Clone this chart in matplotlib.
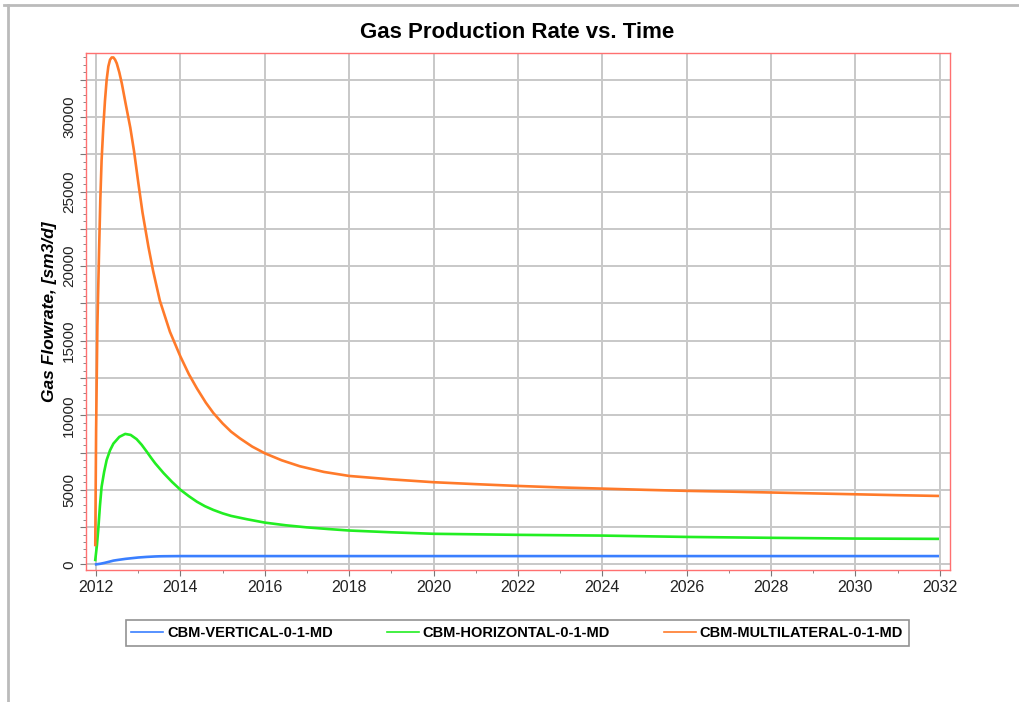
import matplotlib
matplotlib.use("Agg")
import matplotlib.pyplot as plt
from matplotlib.ticker import MultipleLocator, FuncFormatter
from matplotlib.lines import Line2D

plt.rcParams["font.family"] = ["Liberation Sans", "DejaVu Sans"]

title = "Gas Production Rate vs. Time"
ylabel = "Gas Flowrate, [sm3/d]"
series_names = ["CBM-VERTICAL-0-1-MD", "CBM-HORIZONTAL-0-1-MD", "CBM-MULTILATERAL-0-1-MD"]

vert_t = [2012.0, 2012.1, 2012.2, 2012.3, 2012.41, 2012.5, 2012.6, 2012.7, 2012.8, 2012.9, 2013.0, 2013.1,
          2013.2, 2013.3, 2013.4, 2013.5, 2013.6, 2014.0, 2016.0, 2020.0, 2024.0, 2028.0, 2031.95]
vert_q = [0, 40, 100, 170, 250, 290, 330, 370, 400, 430, 460, 480,
          500, 515, 530, 540, 545, 555, 555, 555, 555, 555, 555]

horiz_t = [2011.98, 2012.02, 2012.05, 2012.09, 2012.13, 2012.19, 2012.25, 2012.33, 2012.41, 2012.55, 2012.69,
           2012.82, 2012.96, 2013.08, 2013.2, 2013.3, 2013.4, 2013.6, 2013.8, 2014.0, 2014.2, 2014.39, 2014.58,
           2014.78, 2015.0, 2015.2, 2015.57, 2016.0, 2016.5, 2017.0, 2017.5, 2018.0, 2019.0, 2020.0, 2022.0,
           2024.0, 2026.0, 2028.0, 2030.0, 2031.95]
horiz_q = [300, 1300, 2300, 3900, 5200, 6200, 7000, 7650, 8100, 8550, 8750,
           8680, 8400, 8020, 7560, 7160, 6780, 6120, 5530, 5000, 4570, 4200, 3900,
           3650, 3420, 3250, 3030, 2800, 2620, 2480, 2370, 2270, 2150, 2050, 1980,
           1930, 1840, 1780, 1730, 1710]

multi_t = [2011.98, 2012.0, 2012.03, 2012.07, 2012.1, 2012.13, 2012.17, 2012.21, 2012.25, 2012.29, 2012.33,
           2012.37, 2012.41, 2012.45, 2012.49, 2012.55, 2012.61, 2012.7, 2012.81, 2012.9, 2013.0, 2013.1,
           2013.24, 2013.35, 2013.51, 2013.75, 2014.0, 2014.2, 2014.39, 2014.6, 2014.78, 2015.0, 2015.2,
           2015.41, 2015.7, 2016.0, 2016.4, 2016.83, 2017.4, 2018.0, 2019.0, 2020.0, 2021.0, 2022.0,
           2023.0, 2024.0, 2025.0, 2026.0, 2027.0, 2028.0, 2029.0, 2030.0, 2031.0, 2031.95]
multi_q = [1300, 9000, 16000, 21000, 24500, 27100, 29300, 31100, 32500, 33400, 33850,
           34000, 34000, 33850, 33600, 33000, 32250, 30900, 29300, 27700, 25600, 23600,
           21300, 19700, 17700, 15600, 13930, 12750, 11800, 10850, 10150, 9450, 8900,
           8450, 7900, 7450, 6980, 6580, 6200, 5930, 5700, 5510, 5380, 5260,
           5160, 5080, 5000, 4930, 4880, 4820, 4760, 4700, 4640, 4590]

colors = ["#3a7fff", "#22ee22", "#ff7a2a"]

fig = plt.figure(figsize=(10.2, 7.02), dpi=100)
ax = fig.add_axes([0.0843, 0.188, 0.847, 0.7365])

for t, q, c, n in zip([vert_t, horiz_t, multi_t], [vert_q, horiz_q, multi_q], colors, series_names):
    ax.plot(t, q, color=c, lw=1.9, label=n, zorder=3, solid_joinstyle="round")

ax.set_xlim(2011.76, 2032.24)
ax.set_ylim(-380, 34300)
ax.xaxis.set_major_locator(MultipleLocator(2))
ax.xaxis.set_minor_locator(MultipleLocator(1))
ax.xaxis.set_major_formatter(FuncFormatter(lambda v, p: f"{int(round(v))}"))
ax.yaxis.set_major_locator(MultipleLocator(2500))
ax.yaxis.set_minor_locator(MultipleLocator(500))
ax.yaxis.set_major_formatter(FuncFormatter(lambda v, p: f"{int(v)}" if abs(v % 5000) < 1e-6 else ""))

ax.grid(True, which="major", color="#c8c8c8", lw=1.4, zorder=0)
ax.tick_params(axis="x", which="major", direction="out", length=4, color="#777777", labelsize=11.5, labelcolor="#222222")
ax.tick_params(axis="y", which="major", direction="out", length=4, color="#777777", labelsize=11, labelcolor="#222222", pad=3)
ax.tick_params(axis="both", which="minor", direction="out", length=2.5, color="#777777")
for lab in ax.get_yticklabels():
    lab.set_rotation(90)
    lab.set_va("center")
for s in ax.spines.values():
    s.set_color("#ff7070")
    s.set_linewidth(1.0)

ax.set_ylabel(ylabel, fontsize=12.5, fontweight="bold", fontstyle="italic", labelpad=4)
fig.text(0.507, 0.954, title, ha="center", va="center", fontsize=16, fontweight="bold")

leg = fig.legend(loc="center", bbox_to_anchor=(0.507, 0.098), ncol=3, frameon=True, fancybox=False,
                 handlelength=2.2, handletextpad=0.25, columnspacing=3.7, borderpad=0.4,
                 prop={"weight": "bold", "size": 10.5})
leg.get_frame().set_edgecolor("#777777")
leg.get_frame().set_linewidth(1.2)
for h in leg.get_lines():
    h.set_linewidth(1.2)

fig.add_artist(Line2D([4/1020, 1.0], [1 - 5/702, 1 - 5/702], color="#bbbbbb", lw=2, transform=fig.transFigure))
fig.add_artist(Line2D([8/1020, 8/1020], [1 - 5/702, 0.0], color="#bbbbbb", lw=2, transform=fig.transFigure))

fig.savefig("out.png", dpi=100)
